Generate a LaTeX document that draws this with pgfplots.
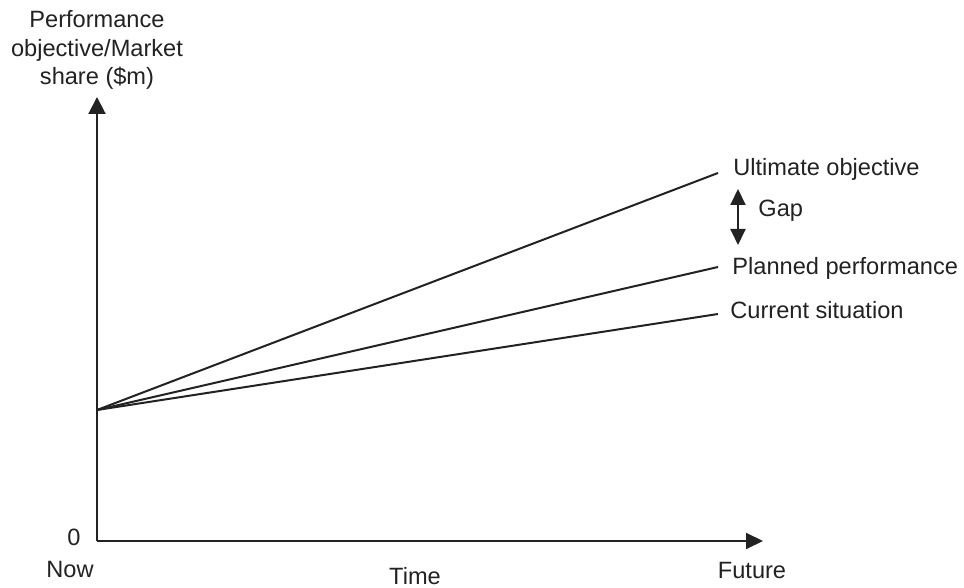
\documentclass[border=0pt]{standalone}
\usepackage{fontspec}
\setmainfont{Liberation Sans}
\usepackage{pgfplots}
\pgfplotsset{compat=1.18}
\usetikzlibrary{arrows.meta}
\definecolor{ink}{HTML}{222222}
\begin{document}
\begin{tikzpicture}[font=\fontsize{11.8}{14}\selectfont]
\begin{axis}[
  at={(0,0)}, anchor=south west,
  scale only axis, width=333pt, height=222pt,
  xmin=0, xmax=666, ymin=0, ymax=444,
  axis x line=bottom, axis y line=left,
  axis line style={ink, line width=1pt},
  x axis line style={-{Triangle[length=8.5pt,width=8pt]}},
  y axis line style={-{Triangle[length=8.5pt,width=8.5pt]}},
  xtick=\empty, ytick=\empty,
  clip=false,
]
\addplot[ink, line width=1pt] coordinates {(0,131) (621,368)};
\addplot[ink, line width=1pt] coordinates {(0,131) (621,274)};
\addplot[ink, line width=1pt] coordinates {(0,131) (621,227)};
\draw[ink, line width=1pt, {Triangle[length=8pt,width=7.5pt]}-{Triangle[length=8pt,width=7.5pt]}] (axis cs:641,352) -- (axis cs:641,296);
\node[ink, anchor=base west, inner sep=0pt] at (axis cs:636,365) {Ultimate objective};
\node[ink, anchor=base west, inner sep=0pt] at (axis cs:635,266) {Planned performance};
\node[ink, anchor=base west, inner sep=0pt] at (axis cs:633,222) {Current situation};
\node[ink, anchor=base west, inner sep=0pt] at (axis cs:661,324) {Gap};
\node[ink, anchor=base east, inner sep=0pt] at (axis cs:-16,-5) {0};
\node[ink, anchor=base, inner sep=0pt] at (axis cs:-27,-37) {Now};
\node[ink, anchor=base, inner sep=0pt] at (axis cs:318,-44) {Time};
\node[ink, anchor=base, inner sep=0pt] at (axis cs:655,-38) {Future};
\node[ink, anchor=base, inner sep=0pt] at (axis cs:0,513) {Performance};
\node[ink, anchor=base, inner sep=0pt] at (axis cs:0,484) {objective/Market};
\node[ink, anchor=base, inner sep=0pt] at (axis cs:0,456) {share (\$m)};
\end{axis}
\pgfresetboundingbox
\path[use as bounding box] (-48.5pt,-23.5pt) rectangle (433.5pt,270.5pt);
\end{tikzpicture}
\end{document}
